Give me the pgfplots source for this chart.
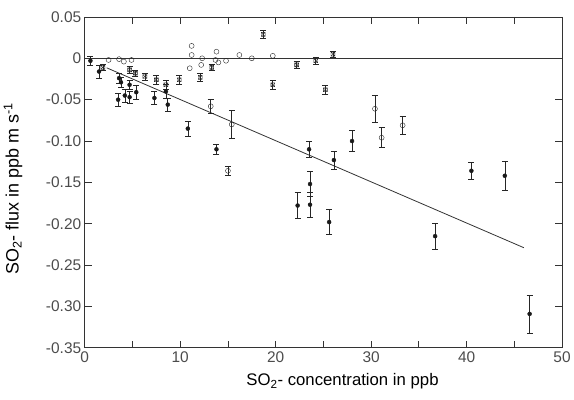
\documentclass[border=0pt]{standalone}
\usepackage{fontspec}
\setmainfont{Liberation Sans}
\usepackage{pgfplots}
\pgfplotsset{compat=1.18}
\pgfdeclareplotmark{xsquare}{%
 \pgfpathrectangle{\pgfqpoint{-\pgfplotmarksize}{-\pgfplotmarksize}}{\pgfqpoint{2\pgfplotmarksize}{2\pgfplotmarksize}}%
 \pgfpathmoveto{\pgfqpoint{-\pgfplotmarksize}{-\pgfplotmarksize}}\pgfpathlineto{\pgfqpoint{\pgfplotmarksize}{\pgfplotmarksize}}%
 \pgfpathmoveto{\pgfqpoint{-\pgfplotmarksize}{\pgfplotmarksize}}\pgfpathlineto{\pgfqpoint{\pgfplotmarksize}{-\pgfplotmarksize}}%
 \pgfusepathqstroke}
\begin{document}
\begin{tikzpicture}
\begin{axis}[scale only axis, width=479pt, height=332pt,
 xmin=0, xmax=50, ymin=-0.35, ymax=0.05,
 xtick={0,10,20,30,40,50}, xticklabels={0,10,20,30,40,50},
 minor xtick={5,15,25,35,45},
 ytick={-0.35,-0.30,-0.25,-0.20,-0.15,-0.10,-0.05,0,0.05},
 yticklabels={-0.35,-0.30,-0.25,-0.20,-0.15,-0.10,-0.05,0,0.05},
 tick align=inside, major tick length=7pt, minor tick length=7pt,
 axis line style={black!80, line width=0.8pt},
 every tick/.style={black!80, line width=0.8pt},
 ticklabel style={font=\fontsize{15.5}{17}\selectfont, text=black!70},
 xlabel={SO\textsubscript{2}- concentration in ppb},
 ylabel={SO\textsubscript{2}- flux in ppb m s\textsuperscript{-1}},
 xlabel style={font=\fontsize{16.8}{18}\selectfont, at={(axis description cs:0.54,-0.102)}, anchor=center},
 ylabel style={font=\fontsize{18}{20}\selectfont, at={(axis description cs:-0.150,0.48)}, anchor=center},
 error bars/error bar style={black!85, line width=0.6pt},
 error bars/error mark options={rotate=90, mark size=3pt, line width=0.6pt, black!85},
]
% zero line
\addplot[black!80, line width=0.8pt] coordinates {(0,0) (50,0)};
% regression line
\addplot[black!80, line width=0.8pt] coordinates {(2.3,-0.0115) (46,-0.229)};
% filled circles
\addplot[only marks, mark=*, mark size=2pt, black!90,
 error bars/.cd, y dir=both, y explicit] table[x=x, y=y, y error=e] {
x y e
0.6 -0.003 0.005
1.5 -0.016 0.008
3.6 -0.024 0.006
3.8 -0.029 0.006
3.5 -0.050 0.008
4.2 -0.045 0.008
4.7 -0.047 0.007
5.4 -0.041 0.008
4.7 -0.032 0.006
7.3 -0.048 0.008
8.5 -0.040 0.008
8.7 -0.056 0.008
10.8 -0.085 0.009
13.8 -0.110 0.006
22.3 -0.178 0.016
23.5 -0.110 0.010
23.6 -0.152 0.015
23.6 -0.177 0.015
25.6 -0.198 0.015
26.1 -0.123 0.011
28.0 -0.100 0.013
36.7 -0.215 0.016
40.5 -0.136 0.010
44.0 -0.142 0.017
46.6 -0.309 0.023
};
% open circles with error bars
\addplot[only marks, mark=o, mark size=2.5pt, black!85,
 error bars/.cd, y dir=both, y explicit] table[x=x, y=y, y error=e] {
x y e
13.2 -0.058 0.008
15.4 -0.080 0.017
15.0 -0.136 0.006
30.4 -0.061 0.016
31.1 -0.096 0.012
33.3 -0.081 0.011
};
% open circles without error bars
\addplot[only marks, mark=o, mark size=2.5pt, black!85] coordinates {
(2.5,-0.002) (3.6,-0.001) (4.1,-0.004) (4.9,-0.002)
(11.2,0.015) (11.2,0.004) (11.0,-0.012) (12.3,0.0) (12.2,-0.008)
(13.8,0.008) (13.7,-0.002) (14.0,-0.005) (14.8,-0.003)
(16.2,0.004) (17.5,0.0) (19.7,0.003)
};
% crossed squares
\addplot[only marks, mark=xsquare, mark size=2pt, black!85,
 error bars/.cd, y dir=both, y explicit] table[x=x, y=y, y error=e] {
x y e
18.7 0.029 0.005
22.2 -0.008 0.004
24.2 -0.003 0.004
26.0 0.005 0.004
19.7 -0.032 0.005
25.2 -0.038 0.005
12.1 -0.023 0.005
13.3 -0.011 0.004
1.9 -0.011 0.004
4.7 -0.014 0.004
5.3 -0.018 0.004
6.3 -0.022 0.004
7.5 -0.026 0.005
8.5 -0.032 0.005
9.9 -0.026 0.005
};
\end{axis}
\path ([shift={(-85pt,-52pt)}]current axis.south west) rectangle ([shift={(10pt,17pt)}]current axis.north east);
\end{tikzpicture}
\end{document}
